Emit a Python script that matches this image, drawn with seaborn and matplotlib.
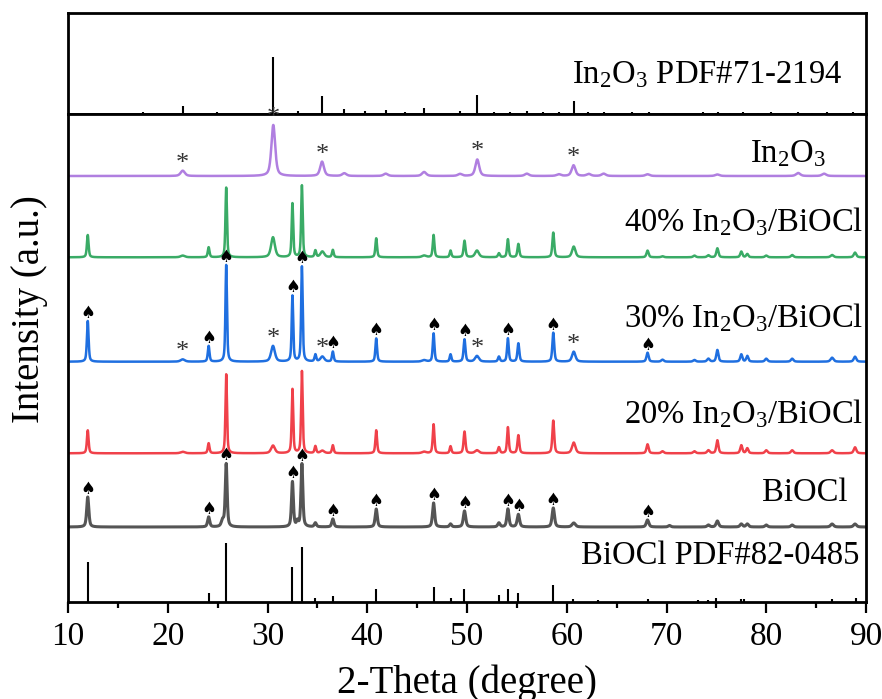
import numpy as np
import matplotlib
matplotlib.use("Agg")
import matplotlib.pyplot as plt
import seaborn as sns

# --- data (peak position in 2-theta, height, fwhm) ---
# heights are in figure pixels above each trace's baseline
bioc_pdf_pos = [11.98, 24.1, 25.86, 32.5, 33.45, 34.8, 36.55, 40.9, 46.65, 48.35, 49.7,
                53.2, 54.1, 55.1, 58.6, 60.6, 63.1, 68.1, 73.2, 74.2, 75.0, 77.5, 77.8, 86.6, 89.0]
bioc_pdf_h = [40, 9, 59, 35, 55, 4, 6, 13, 15, 4, 13,
              7, 13, 9, 17, 3, 2, 3, 2, 2, 4, 3, 3, 3, 4]

in2o3_pdf_pos = [17.5, 21.5, 24.9, 30.58, 33.1, 35.47, 37.7, 39.8, 41.85, 43.8, 45.7, 49.3,
                 51.03, 52.7, 54.3, 56.0, 57.6, 59.2, 60.68, 62.1, 63.7, 65.0, 66.5, 68.2,
                 69.6, 70.9, 73.7, 75.2, 76.4, 77.7, 79.2, 80.5, 82.0, 83.2, 84.6, 86.1, 87.4, 88.7]
in2o3_pdf_h = [2.3, 8.3, 1.7, 56.7, 3, 17.7, 5, 2.7, 4.3, 2.3, 6.3, 3.3,
               19.5, 2, 2, 3, 2, 2.5, 13.5, 2.5, 2.5, 1.5, 2, 2,
               1.5, 1.5, 2, 2, 1.5, 2, 1.5, 2, 1.5, 2.5, 1.5, 2.5, 1.5, 2]

bioc_pos = [11.98, 24.1, 25.5, 25.86, 32.5, 33.0, 33.45, 34.8, 36.55, 40.9, 46.65, 48.35, 49.75,
            53.2, 54.1, 55.15, 58.65, 60.7, 68.1, 70.3, 74.2, 75.1, 77.5, 78.1, 80.0, 82.6, 86.6, 88.9]
bioc_h = [30, 10, 6, 63, 45, 5, 63, 4, 8, 18, 24, 3, 16,
          4, 18, 12.5, 19, 4, 7, 1.5, 2, 6, 3, 3, 2, 2, 3, 3]
bioc_w = [0.25, 0.25, 0.3, 0.22, 0.22, 0.2, 0.22, 0.25, 0.25, 0.25, 0.25, 0.25, 0.28,
          0.28, 0.25, 0.28, 0.28, 0.4, 0.3, 0.3, 0.3, 0.3, 0.3, 0.3, 0.3, 0.3, 0.35, 0.35]

comp_pos = [11.98, 21.5, 24.1, 25.86, 30.55, 32.5, 33.45, 34.8, 35.5, 36.55, 40.9, 45.7, 46.65,
            48.35, 49.75, 51.0, 53.2, 54.1, 55.15, 58.65, 60.7, 68.1, 69.6, 72.8, 74.2, 75.1,
            77.5, 78.1, 80.0, 82.6, 86.6, 88.9]
comp_w = [0.2, 0.5, 0.2, 0.18, 0.45, 0.18, 0.18, 0.2, 0.45, 0.2, 0.2, 0.5, 0.2,
          0.2, 0.22, 0.45, 0.22, 0.2, 0.22, 0.22, 0.4, 0.25, 0.3, 0.3, 0.3, 0.25,
          0.25, 0.25, 0.3, 0.3, 0.35, 0.3]
h20 = [23, 1.5, 10, 79, 7.7, 64, 82, 7, 2.5, 8, 23, 1.5, 29,
       7, 21.7, 3, 6, 26, 18, 32.7, 10.7, 9, 2, 2, 3, 13,
       8, 5, 3, 3, 3, 6]
h30 = [40.7, 2.3, 15.7, 96.7, 15.7, 65.7, 95, 7, 5, 10, 23.3, 1.5, 28.3,
       7.3, 22.3, 5.7, 5, 23.3, 18.3, 29, 10, 9, 2, 1.7, 3, 11.7,
       7.3, 5.7, 3, 3, 4, 5]
h40 = [22.3, 1.7, 10, 69.7, 20, 53.7, 71.7, 6.7, 5.7, 7.3, 19, 1.7, 22.3,
       6.7, 16.5, 6.7, 4, 18, 13.3, 24.7, 10.7, 6.7, 1, 1.7, 2, 9,
       5.7, 3.3, 1.7, 2.3, 2.3, 4.7]

in2o3_pos = [21.5, 30.58, 35.47, 37.7, 41.85, 45.7, 49.3, 51.03, 56.0, 59.2, 60.68, 62.2,
             63.7, 68.1, 75.1, 83.2, 85.8]
in2o3_h = [5.3, 51, 14.3, 2.7, 2.3, 4, 2, 16.5, 2.3, 1.7, 10.7, 2,
           2.3, 1.7, 1.5, 3, 2.3]
in2o3_w = [0.5, 0.45, 0.45, 0.5, 0.5, 0.5, 0.5, 0.45, 0.5, 0.5, 0.45, 0.5,
           0.5, 0.5, 0.5, 0.5, 0.5]

# baselines (pixels above the bottom axis line)
base_bioc, base_20, base_30, base_40, base_in2o3 = 75, 148.7, 240.3, 344.7, 426

spade_bioc = [11.98, 24.1, 25.86, 32.5, 33.45, 36.55, 40.9, 46.65, 49.75, 54.1, 55.15, 58.65, 68.1]
spade_30 = [11.98, 24.1, 25.86, 32.5, 33.45, 36.55, 40.9, 46.65, 49.75, 54.1, 58.65, 68.1]
star_30 = [21.5, 30.55, 35.5, 51.0, 60.7]
star_in2o3 = [21.5, 30.58, 35.47, 51.03, 60.68]

x = np.linspace(10, 90, 8001)


def pattern(pos, h, w):
    y = np.zeros_like(x)
    for p, a, fw in zip(pos, h, w):
        d = (x - p) / (fw / 2)
        y += a * (0.55 / (1 + d ** 2) + 0.45 * np.exp(-np.log(2) * d ** 2))
    return y


sns.set_style("white")
plt.rcParams["font.family"] = ["Liberation Serif", "DejaVu Sans"]
plt.rcParams["mathtext.fontset"] = "custom"
plt.rcParams["mathtext.rm"] = "Liberation Serif"
plt.rcParams["mathtext.it"] = "Liberation Serif:italic"
plt.rcParams["text.color"] = "black"
plt.rcParams["axes.labelcolor"] = "black"
plt.rcParams["xtick.color"] = "black"

fig = plt.figure(figsize=(8.82, 6.99), dpi=100)
W, H = 882, 699
ax_top = fig.add_axes([68 / W, (H - 114) / H, (866 - 68) / W, (114 - 13) / H])
ax = fig.add_axes([68 / W, (H - 602) / H, (866 - 68) / W, (602 - 114) / H], sharex=ax_top)

for a in (ax, ax_top):
    for s in a.spines.values():
        s.set_linewidth(2.0)
        s.set_color("black")

# top panel: In2O3 reference
ax_top.vlines(in2o3_pdf_pos, 0, in2o3_pdf_h, color="black", lw=1.5)
ax_top.set_ylim(0, 101)
ax_top.set_yticks([])
ax_top.tick_params(axis="x", bottom=False, labelbottom=False)
ax_top.text(87.6, 30.7, r"In$_2$O$_3$ PDF#71-2194", ha="right", va="baseline", fontsize=23.5)

# main panel
ax.vlines(bioc_pdf_pos, 0, bioc_pdf_h, color="black", lw=1.5)

traces = [
    (pattern(bioc_pos, bioc_h, bioc_w), base_bioc, "#555555", 2.2),
    (pattern(comp_pos, h20, comp_w), base_20, "#f0414a", 1.8),
    (pattern(comp_pos, h30, comp_w), base_30, "#1f6fe0", 1.8),
    (pattern(comp_pos, h40, comp_w), base_40, "#3aab66", 1.8),
    (pattern(in2o3_pos, in2o3_h, in2o3_w), base_in2o3, "#b07fe0", 1.8),
]
for y, base, col, lw in traces:
    sns.lineplot(x=x, y=y + base, ax=ax, color=col, lw=lw, estimator=None, sort=False)


def peak_top(y, base, p):
    m = np.abs(x - p) < 0.15
    return base + y[m].max()


y_bioc = traces[0][0]
y30 = traces[2][0]
y_in = traces[4][0]
for p in spade_bioc:
    ax.text(p, peak_top(y_bioc, base_bioc, p) + 8, "\u2660", ha="center", va="center",
            fontsize=12, family="DejaVu Sans", color="black")
for p in spade_30:
    ax.text(p, peak_top(y30, base_30, p) + 8, "\u2660", ha="center", va="center",
            fontsize=12, family="DejaVu Sans", color="black", clip_on=False)
for p in star_30:
    ax.text(p, peak_top(y30, base_30, p) + 1, "*", ha="center", va="baseline",
            fontsize=19, color="#333333")
for p in star_in2o3:
    ax.text(p, peak_top(y_in, base_in2o3, p) + 1, "*", ha="center", va="baseline",
            fontsize=19, color="#333333", clip_on=False, zorder=5)

ax.text(86.0, 440.3, r"In$_2$O$_3$", ha="right", va="baseline", fontsize=23.5)
ax.text(89.7, 370.3, r"40% In$_2$O$_3$/BiOCl", ha="right", va="baseline", fontsize=23.5)
ax.text(89.7, 275.3, r"30% In$_2$O$_3$/BiOCl", ha="right", va="baseline", fontsize=23.5)
ax.text(89.7, 178.7, r"20% In$_2$O$_3$/BiOCl", ha="right", va="baseline", fontsize=23.5)
ax.text(88.1, 101.3, "BiOCl", ha="right", va="baseline", fontsize=23.5)
ax.text(89.3, 38, "BiOCl PDF#82-0485", ha="right", va="baseline", fontsize=23.5)

ax.set_xlim(10, 90)
ax.set_ylim(0, 488)
ax.set_yticks([])
ax.set_xticks(range(10, 91, 10))
ax.set_xticks(range(15, 90, 10), minor=True)
ax.tick_params(axis="x", which="major", direction="out", length=8, width=1.6,
               labelsize=24, pad=6, bottom=True)
ax.tick_params(axis="x", which="minor", direction="out", length=4, width=1.6, bottom=True)
ax.set_xlabel("2-Theta (degree)", fontsize=28, labelpad=9)
ax.set_ylabel("")
fig.text(30 / W, 1 - 309 / H, "Intensity (a.u.)", rotation=90, ha="center", va="center",
         fontsize=28)

fig.savefig("out.png", dpi=100)
